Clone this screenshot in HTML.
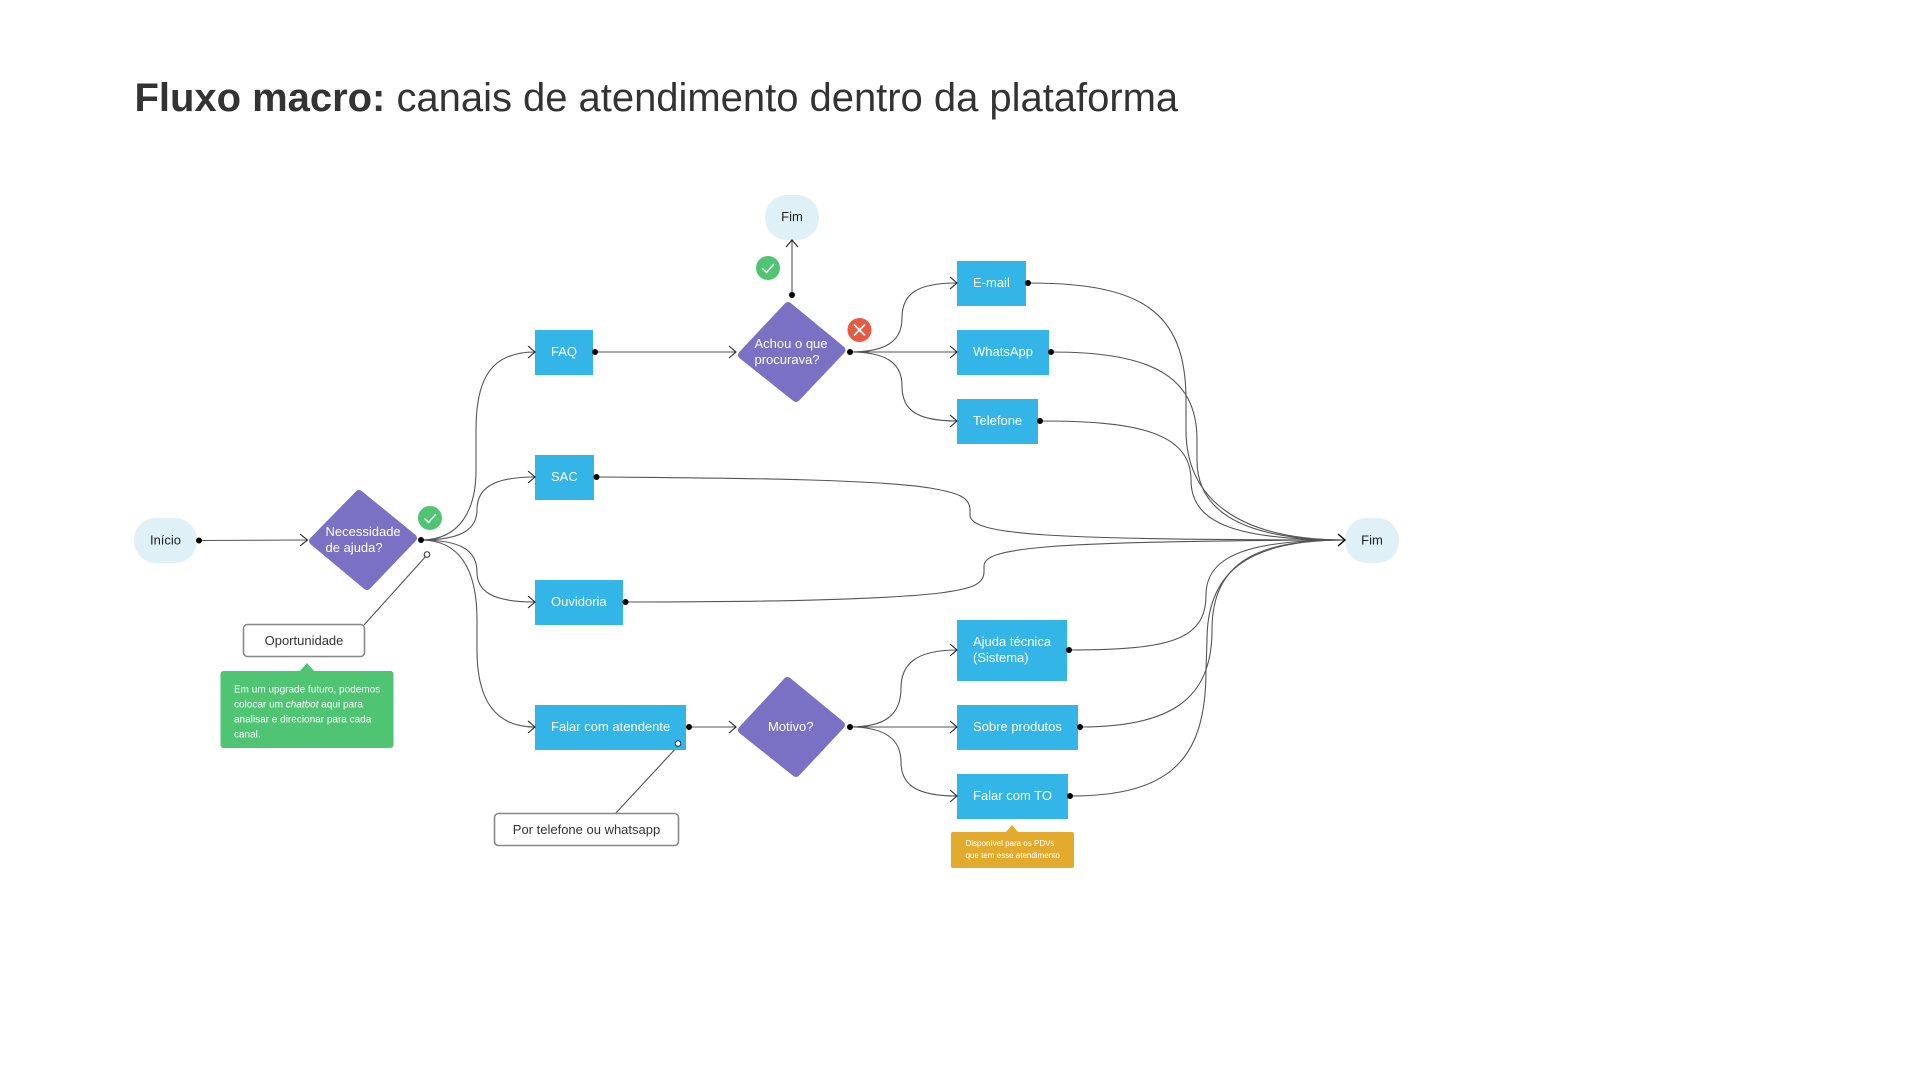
<!DOCTYPE html>
<html><head><meta charset="utf-8"><style>
html,body{margin:0;padding:0;background:#fff;width:1920px;height:1080px;overflow:hidden}
svg{display:block}
text{font-family:"Liberation Sans",sans-serif;font-size:13px}
.w{fill:#fff}.k{fill:#222}
.l{fill:none;stroke:#555;stroke-width:1.1}
.a{fill:none;stroke:#222;stroke-width:1.1}
.d{fill:#000}
.b{fill:#33b5e8}
.p{fill:#7a71c4;stroke:#7a71c4;stroke-width:8;stroke-linejoin:round}
.o{fill:#dff0f7}
.n{fill:#fff;stroke:#888;stroke-width:1.6}
.g{fill:#4fc472}
.c{fill:none;stroke:#fff;stroke-width:1.5}
</style></head><body>
<svg width="1920" height="1080" viewBox="0 0 1920 1080" xmlns="http://www.w3.org/2000/svg">
<text x="134.500" y="111" style="font-size:40px;letter-spacing:-0.025px" fill="#333"><tspan font-weight="700">Fluxo macro:</tspan> canais de atendimento dentro da plataforma</text>

<!-- curves -->
<path class="l" d="M199 540.500L307 540"/>
<path class="l" d="M421 540C460 540 476 510 476 470L476 430C476 380 490 352 535 352"/>
<path class="l" d="M421 540C460 540 477 530 477 510C477 490 490 477 535 477"/>
<path class="l" d="M421 540C460 540 477 550 477 572C477 590 490 602 535 602"/>
<path class="l" d="M421 540C460 540 477 570 477 620L477 650C477 700 495 727 535 727"/>
<path class="l" d="M595 352L736 352"/>
<path class="l" d="M596.500 477C760 478 880 480 930 488C960 493 970 498 970 510L970 515C970 535 1050 540 1345 540"/>
<path class="l" d="M625.500 602C760 602 880 600 940 593C970 589 984 585 984 572L984 566C984 548 1040 541 1345 540"/>
<path class="l" d="M689 727L736 727"/>
<path class="l" d="M792 295L792 240"/>
<path class="l" d="M850 352C885 352 902 342 902 318C902 295 915 283 957 283"/>
<path class="l" d="M850 352L957 352"/>
<path class="l" d="M850 352C885 352 902 362 902 386C902 409 915 421 957 421"/>
<path class="l" d="M850 727C885 727 901 715 901 688C901 665 915 650 957 650"/>
<path class="l" d="M850 727L957 727"/>
<path class="l" d="M850 727C885 727 901 739 901 762C901 784 915 796 957 796"/>
<path class="l" d="M1028 283C1140 283 1186 310 1186 400L1186 430C1186 500 1240 540 1345 540"/>
<path class="l" d="M1051 352C1150 352 1197 375 1197 440L1197 460C1197 510 1240 540 1345 540"/>
<path class="l" d="M1040 421C1130 421 1191 430 1191 480C1191 525 1240 540 1345 540"/>
<path class="l" d="M1069 650C1170 650 1206 640 1206 595C1206 555 1250 540 1345 540"/>
<path class="l" d="M1080 727C1170 727 1212 700 1212 630C1212 560 1260 540 1345 540"/>
<path class="l" d="M1070 796C1170 796 1206 760 1206 670L1207 640C1207 570 1250 540 1345 540"/>
<path class="l" d="M427 555L364 625"/>
<path class="l" d="M678 746L615 814"/>

<!-- nodes -->
<rect class="o" x="134" y="518" width="63" height="45" rx="22"/>
<text class="k" x="165.500" y="544.500" text-anchor="middle">Início</text>
<rect class="o" x="765" y="195" width="54" height="45" rx="22"/>
<text class="k" x="797" y="221" text-anchor="middle" dx="-5">Fim</text>
<rect class="o" x="1345" y="518" width="54" height="45" rx="22"/>
<text class="k" x="1372" y="544.500" text-anchor="middle">Fim</text>

<polygon class="p" points="359,494 413,538 367,586 313,541"/>
<text class="w" x="325.500" y="536">Necessidade</text><text class="w" x="325.500" y="552">de ajuda?</text>
<polygon class="p" points="788,306 841.500,350 796,398 742,355"/>
<text class="w" x="754.500" y="348">Achou o que</text><text class="w" x="754.500" y="364">procurava?</text>
<polygon class="p" points="787.500,681 841,725 796,773 742,730"/>
<text class="w" x="768" y="731">Motivo?</text>

<rect class="b" x="535" y="330" width="58" height="45"/><text class="w" x="551" y="356">FAQ</text>
<rect class="b" x="535" y="455" width="59" height="45"/><text class="w" x="551" y="481">SAC</text>
<rect class="b" x="535" y="580" width="88" height="45"/><text class="w" x="551" y="606">Ouvidoria</text>
<rect class="b" x="535" y="705" width="151" height="45"/><text class="w" x="551" y="731">Falar com atendente</text>
<rect class="b" x="957" y="261" width="69" height="45"/><text class="w" x="973" y="287">E-mail</text>
<rect class="b" x="957" y="330" width="92" height="45"/><text class="w" x="973" y="356">WhatsApp</text>
<rect class="b" x="957" y="399" width="81" height="45"/><text class="w" x="973" y="425">Telefone</text>
<rect class="b" x="957" y="620" width="110" height="61"/><text class="w" x="973" y="646">Ajuda técnica</text><text class="w" x="973" y="662">(Sistema)</text>
<rect class="b" x="957" y="705" width="121" height="45"/><text class="w" x="973" y="731">Sobre produtos</text>
<rect class="b" x="957" y="774" width="111" height="45"/><text class="w" x="973" y="800">Falar com TO</text>

<!-- notes -->
<rect class="n" x="243.500" y="624.500" width="121" height="32" rx="4"/>
<text x="304" y="645" text-anchor="middle" fill="#333">Oportunidade</text>
<rect class="n" x="494.500" y="813.500" width="184" height="32" rx="4"/>
<text x="586.500" y="834" text-anchor="middle" fill="#333">Por telefone ou whatsapp</text>

<rect class="g" x="220.500" y="671" width="173" height="77" rx="3"/>
<polygon class="g" points="299,672 307,663 315,672"/>
<text class="w" x="234" y="692.500" style="font-size:10px">Em um upgrade futuro, podemos</text>
<text class="w" x="234" y="707.500" style="font-size:10px">colocar um <tspan font-style="italic">chatbot</tspan> aqui para</text>
<text class="w" x="234" y="722.500" style="font-size:10px">analisar e direcionar para cada</text>
<text class="w" x="234" y="737.500" style="font-size:10px">canal.</text>
<rect x="951" y="832" width="123" height="36" rx="2" fill="#e3ab2d"/>
<polygon points="1005,833 1012,825 1019,833" fill="#e3ab2d"/>
<text class="w" x="965.500" y="846" style="font-size:8px">Disponível para os PDVs</text>
<text class="w" x="965.500" y="858" style="font-size:8px">que tem esse atendimento</text>

<!-- arrowheads -->
<path class="a" d="M300 534L307.500 540L300 546"/>
<path class="a" d="M528 346L535 352L528 358"/>
<path class="a" d="M528 471L535 477L528 483"/>
<path class="a" d="M528 596L535 602L528 608"/>
<path class="a" d="M528 721L535 727L528 733"/>
<path class="a" d="M729 346L736 352L729 358"/>
<path class="a" d="M729 721L736 727L729 733"/>
<path class="a" d="M786 247L792 240L798 247"/>
<path class="a" d="M950 277L957 283L950 289"/>
<path class="a" d="M950 346L957 352L950 358"/>
<path class="a" d="M950 415L957 421L950 427"/>
<path class="a" d="M950 644L957 650L950 656"/>
<path class="a" d="M950 721L957 727L950 733"/>
<path class="a" d="M950 790L957 796L950 802"/>
<path class="a" d="M1338 534L1345 540L1338 546" style="stroke:#000;stroke-width:1.400"/>

<!-- dots -->
<circle class="d" cx="199" cy="540.500" r="3"/>
<circle class="d" cx="421" cy="540" r="3"/>
<circle class="d" cx="595" cy="352" r="3"/>
<circle class="d" cx="596.500" cy="477" r="3"/>
<circle class="d" cx="625.500" cy="602" r="3"/>
<circle class="d" cx="689" cy="727" r="3"/>
<circle class="d" cx="792" cy="295" r="3"/>
<circle class="d" cx="850" cy="352" r="3"/>
<circle class="d" cx="850" cy="727" r="3"/>
<circle class="d" cx="1028" cy="283" r="3"/>
<circle class="d" cx="1051" cy="352" r="3"/>
<circle class="d" cx="1040" cy="421" r="3"/>
<circle class="d" cx="1069" cy="650" r="3"/>
<circle class="d" cx="1080" cy="727" r="3"/>
<circle class="d" cx="1070" cy="796" r="3"/>
<circle cx="427" cy="554.500" r="2.800" fill="#fff" stroke="#333" stroke-width="1"/>
<circle cx="678" cy="743.500" r="2.800" fill="#fff" stroke="#333" stroke-width="1"/>

<!-- badges -->
<circle class="g" cx="430" cy="518" r="12"/><path class="c" d="M424.500 518.500L428.500 522.500L436 514"/>
<circle class="g" cx="768" cy="268" r="12"/><path class="c" d="M762.500 268.500L766.500 272.500L774 264"/>
<circle cx="859.500" cy="330" r="12" fill="#e55b42"/><path d="M854 324.500L865 335.500M865 324.500L854 335.500" stroke="#fff" stroke-width="1.700" fill="none"/>
</svg>
</body></html>
